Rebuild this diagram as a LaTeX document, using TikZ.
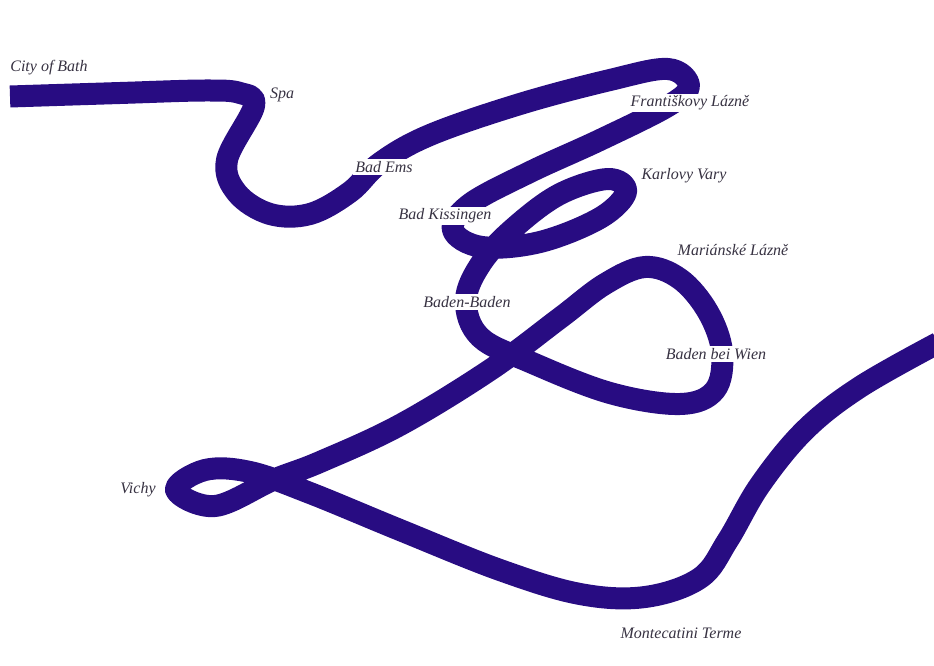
\documentclass[tikz,border=0pt]{standalone}
\usepackage{fontspec}
\setmainfont{Liberation Serif}
\usepackage{tikz}
\usetikzlibrary{positioning}
\definecolor{spaink}{RGB}{40,12,130}
\definecolor{inkgray}{RGB}{55,50,66}
\newcommand{\townfont}{\fontsize{16}{19}\selectfont\itshape}

\begin{document}
\begin{tikzpicture}[
    x=1pt, y=-1pt,
    route/.style={draw=spaink, line width=22pt, line join=round},
    town/.style={font=\townfont, text=inkgray, inner sep=1pt},
    stop/.style={town, fill=white, inner sep=2pt}
]
    \useasboundingbox (0,0) rectangle (934,666);

    % Stations on the route
    \coordinate (bath) at (10,96.5);
    \coordinate (spa) at (254,106);
    \coordinate (ems) at (380,163);
    \coordinate (frant) at (689,86);
    \coordinate (kiss) at (470,204);
    \coordinate (karl) at (626,192);
    \coordinate (bb) at (466,300);
    \coordinate (wien) at (722,352);
    \coordinate (mari) at (645,267);
    \coordinate (vichy) at (176,490);
    \coordinate (monte) at (645,597);
    \coordinate (exit) at (938,343);

    % The route
    \draw[route] plot[smooth, tension=0.6] coordinates {
        (bath) (120,93) (205,90.5) (240,93) (spa) (227,160)
        (237,193) (270,214) (310,214) (350,192) (ems) (430,135)
        (520,104) (610,80) (668,69) (frant) (668,106) (600,140)
        (530,172) (kiss) (453,230) (482,247) (540,242) (600,218) (karl)
        (608,179) (560,194) (515,227) (482,262) (bb) (480,337)
        (530,362) (610,393) (680,404) (715,390) (wien) (708,312)
        (680,279) (mari) (605,284) (560,318) (490,370) (400,425)
        (320,462) (273,480) (215,506) (vichy) (205,470) (250,472)
        (310,493) (400,530) (500,570) (580,594) (monte) (700,578)
        (728,540) (760,485) (805,430) (860,387) (exit)
    };

    % Labels
    \node[town] (bathlab) at (49,68) {City of Bath};
    \node[town] (spalab) at (282,95) {Spa};
    \node[stop] (emslab) at (384,167) {Bad Ems};
    \node[stop] (frantlab) at (690,103) {Františkovy Lázně};
    \node[town] (karllab) at (684,176) {Karlovy Vary};
    \node[stop] (kisslab) at (445,216) {Bad Kissingen};
    \node[town] (marilab) at (733,250) {Mariánské Lázně};
    \node[stop] (bblab) at (467,302) {Baden-Baden};
    \node[stop] (wienlab) at (716,354) {Baden bei Wien};
    \node[town] (vichylab) at (138,490) {Vichy};
    \node[town] (montelab) at (681,633) {Montecatini Terme};

\end{tikzpicture}
\end{document}
